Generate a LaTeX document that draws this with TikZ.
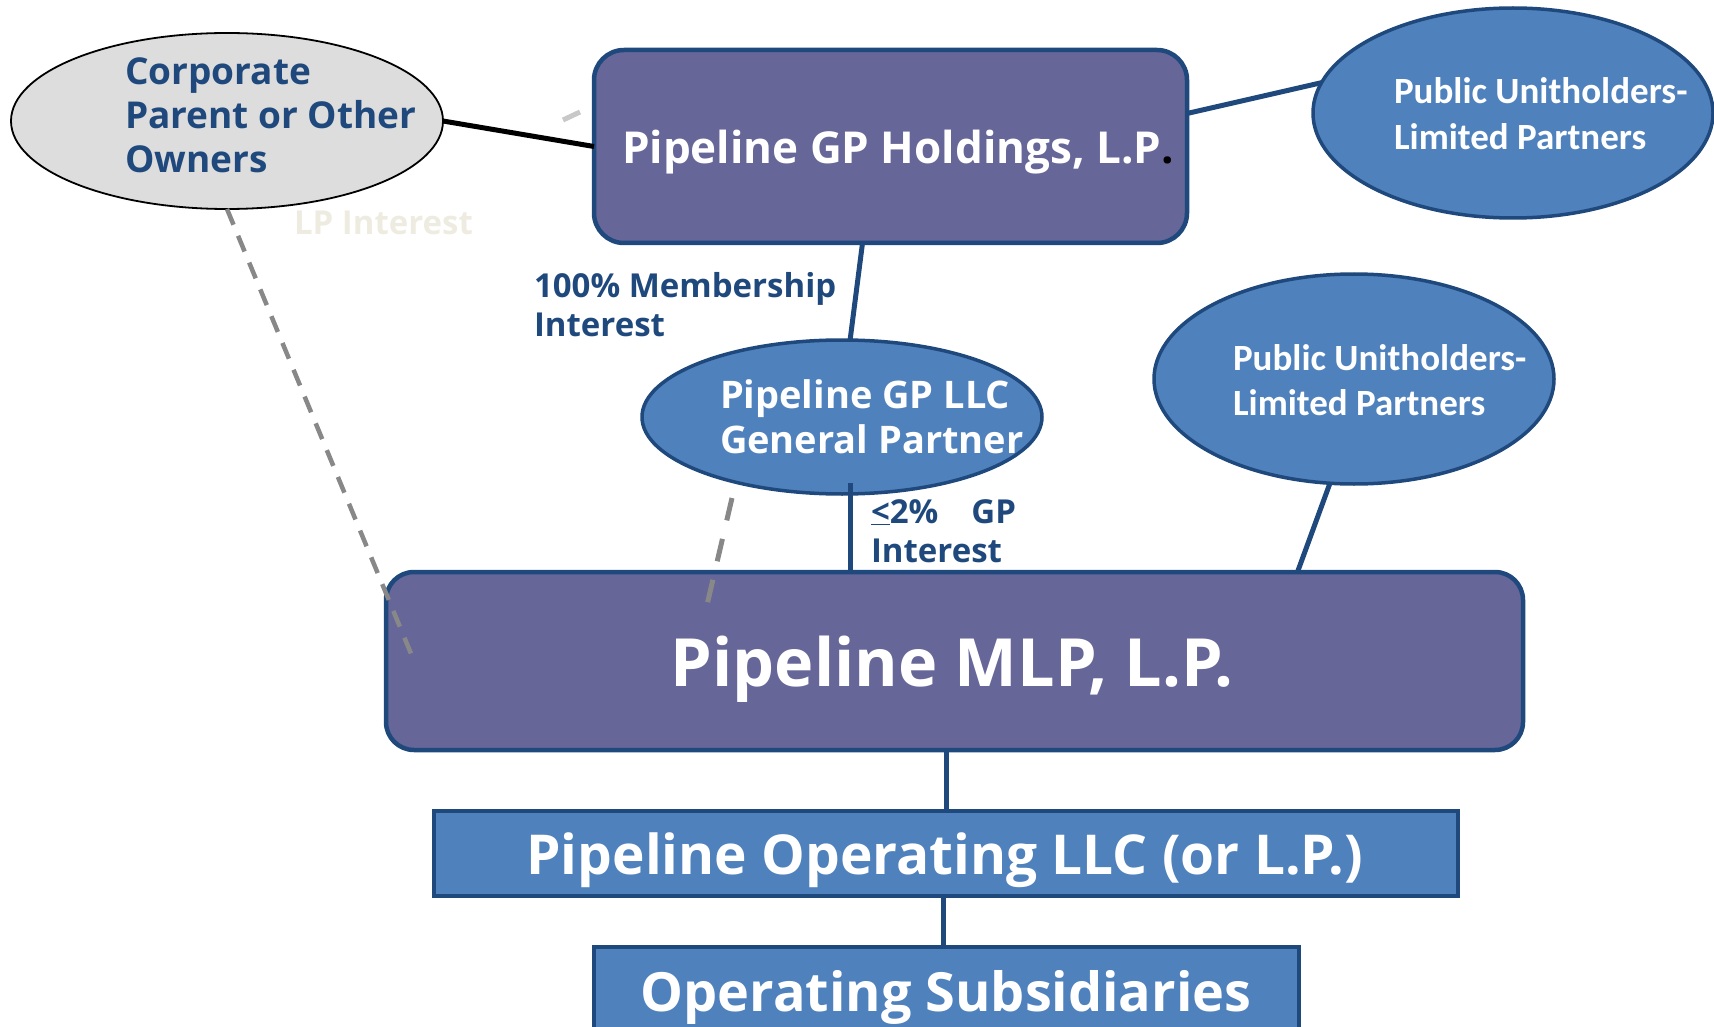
\documentclass[tikz,border=0pt]{standalone}
\usepackage{fontspec}
\setmainfont{Open Sans}
\newfontfamily\calib{Carlito}
\usetikzlibrary{shapes.geometric,calc}

\definecolor{navy}{HTML}{1F497D}
\definecolor{plum}{HTML}{666699}
\definecolor{steel}{HTML}{4F81BD}
\definecolor{silver}{HTML}{DDDDDD}
\definecolor{dashgray}{HTML}{888888}
\definecolor{faint}{HTML}{C8C8C8}
\definecolor{paper}{HTML}{EEECE1}

\tikzset{
  entity/.style={rectangle, inner sep=0pt, outer sep=0pt, fill=plum, draw=navy,
                 line width=4.5pt, rounded corners=30pt},
  unit/.style={rectangle, inner sep=0pt, outer sep=0pt, fill=steel, draw=navy,
               line width=4.5pt},
  holder/.style={ellipse, inner sep=0pt, outer sep=0pt, fill=steel, draw=navy,
                 line width=3.5pt},
  owner/.style={ellipse, inner sep=0pt, outer sep=0pt, fill=silver, draw=black,
                line width=1.8pt},
  txt/.style={inner sep=0pt, outer sep=0pt, anchor=base west},
  navytxt/.style={txt, text=navy, font=\bfseries\fontsize{37}{43}\selectfont},
  whitetxt/.style={txt, text=white, font=\bfseries\fontsize{38}{44}\selectfont},
  pubtxt/.style={txt, text=white, font=\calib\bfseries\fontsize{37}{45}\selectfont},
  notetxt/.style={txt, text=navy, font=\bfseries\fontsize{33}{38}\selectfont},
  link/.style={draw=navy, line width=5pt},
  owned/.style={draw=black, line width=5pt},
  lpdash/.style={draw=dashgray, line width=4.5pt, dash pattern=on 17pt off 12pt},
  gpdash/.style={draw=dashgray, line width=5pt, dash pattern=on 23pt off 19pt}
}

\begin{document}
\begin{tikzpicture}[x=1pt, y=-1pt]
\useasboundingbox (0,0) rectangle (1714,1027);

% ---- shapes ----
\node[owner, minimum width=432pt, minimum height=176pt] (corp) at (227,121) {};
\node[entity, minimum width=593pt, minimum height=193pt] (gph) at (890.5,146.5) {};
\node[holder, minimum width=400pt, minimum height=210pt] (pub1) at (1513,113) {};
\node[holder, minimum width=400pt, minimum height=154pt] (gpllc) at (842,417) {};
\node[holder, minimum width=400pt, minimum height=210pt] (pub2) at (1354,379) {};
\node[entity, rounded corners=28pt, minimum width=1137pt, minimum height=178pt] (mlp) at (954.5,661) {};
\node[unit, minimum width=1024pt, minimum height=85pt] (opllc) at (946,853.5) {};
\node[unit, minimum width=705pt, minimum height=103pt] (opsub) at (946.5,998.5) {};

% ---- ownership links ----
\draw[owned] (corp.east) -- (gph.west);
\draw[link] ([yshift=33pt]gph.east) -- (pub1.171);
\draw[link] ([xshift=-28pt]gph.south) -- (gpllc.84);
\draw[link] ([xshift=8pt,yshift=11pt]gpllc.south) -- ([xshift=8pt]gpllc.south |- mlp.north);
\draw[link] (pub2.257) -- ([xshift=343pt]mlp.north);
\draw[link] (mlp.south -| opllc.north) -- (opllc.north);
\draw[link] ([xshift=-3pt]opllc.south) -- ([xshift=-3pt]opllc.south |- opsub.north);

% ---- dashed LP interest lines ----
\coordinate (corpEnd) at (412,656);
\coordinate (gpDashA) at (732,498);
\coordinate (gpDashB) at (707,605);
\coordinate (stubA) at (563,120);
\coordinate (stubB) at (580,112);
\draw[lpdash] (corp.south) -- (corpEnd);
\draw[gpdash] (gpDashA) -- (gpDashB);
\draw[draw=faint, line width=5pt] (stubA) -- (stubB);

% ---- labels ----
\node[navytxt] (corpA) at (125,85) {Corporate};
\node[navytxt] (corpB) at (125,129) {Parent or Other};
\node[navytxt] (corpC) at (125,173) {Owners};

\node[txt, text=paper, font=\bfseries\fontsize{33}{38}\selectfont] (lpint) at (294,235) {LP Interest};

\node[txt, text=white, font=\bfseries\fontsize{44}{50}\selectfont] (gphT) at (622,164)
  {Pipeline GP Holdings, L.P\textcolor{black}{.}};

\node[pubtxt] (pub1A) at (1394,104) {Public Unitholders-};
\node[pubtxt] (pub1B) at (1394,150) {Limited Partners};

\node[notetxt] (memA) at (534,298) {100\% Membership};
\node[notetxt] (memB) at (534,336) {Interest};

\node[whitetxt] (gpA) at (720,408) {Pipeline GP LLC};
\node[whitetxt] (gpB) at (720,453) {General Partner};

\node[pubtxt] (pub2A) at (1233,370) {Public Unitholders-};
\node[pubtxt] (pub2B) at (1233,415) {Limited Partners};

\node[notetxt] (gpiA) at (871,523) {\underline{<}2\%\hspace{1em}GP};
\node[notetxt] (gpiB) at (871,562) {Interest};

\node[txt, anchor=base, text=white, font=\bfseries\fontsize{66.5}{72}\selectfont] (mlpT) at (952,686) {Pipeline MLP, L.P.};
\node[txt, anchor=base, text=white, font=\bfseries\fontsize{55}{60}\selectfont] (opllcT) at (944.5,874) {Pipeline Operating LLC (or L.P.)};
\node[txt, anchor=base, text=white, font=\bfseries\fontsize{54}{60}\selectfont] (opsubT) at (946,1011) {Operating Subsidiaries};
\end{tikzpicture}
\end{document}
